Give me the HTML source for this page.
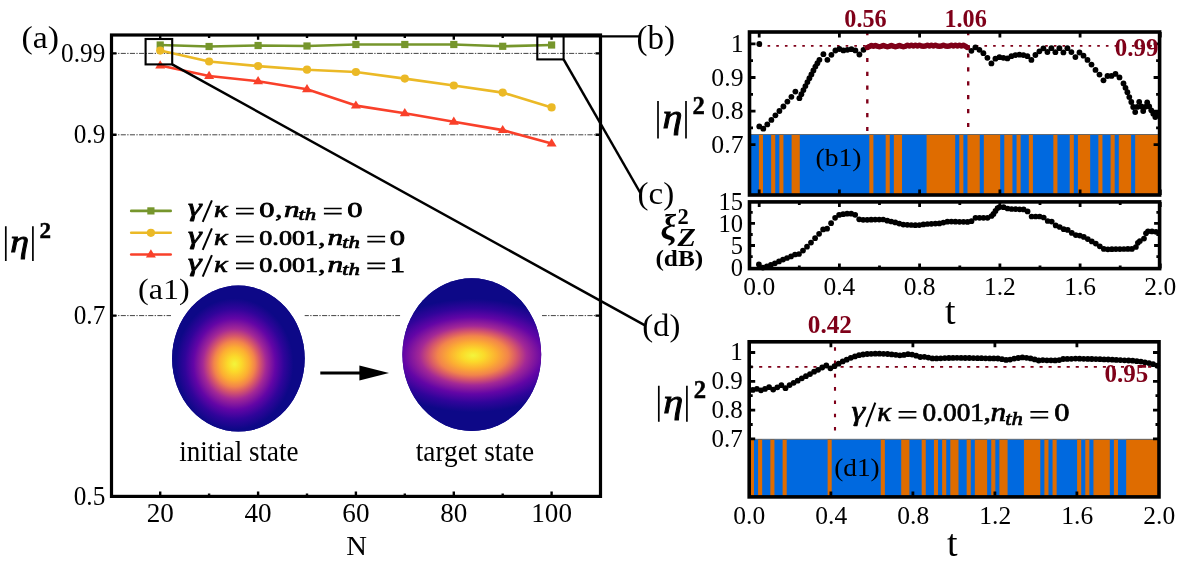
<!DOCTYPE html>
<html><head><meta charset="utf-8"><title>figure</title>
<style>
html,body{margin:0;padding:0;background:#fff;}
svg{display:block;will-change:transform;}
text{font-family:"Liberation Serif",serif;fill:#000;}
.b{font-weight:bold;}
.i{font-style:italic;}
.bi{font-weight:bold;font-style:italic;}
.dr{fill:#7F0019;font-weight:bold;}
</style></head><body>
<svg width="1177" height="565" viewBox="0 0 1177 565">
<defs>
<radialGradient id="g1" cx="0" cy="0" r="1" gradientUnits="userSpaceOnUse" gradientTransform="translate(234.5 364) scale(62 69)">
<stop offset="0" stop-color="#F3F53B"/>
<stop offset="0.11" stop-color="#FBDA2A"/>
<stop offset="0.24" stop-color="#FCAE32"/>
<stop offset="0.33" stop-color="#F2844B"/>
<stop offset="0.41" stop-color="#D5566B"/>
<stop offset="0.51" stop-color="#A32896"/>
<stop offset="0.66" stop-color="#6305A6"/>
<stop offset="0.8" stop-color="#30049A"/>
<stop offset="0.95" stop-color="#0D0887"/>
</radialGradient>
<radialGradient id="g2" cx="0" cy="0" r="1" gradientUnits="userSpaceOnUse" gradientTransform="translate(473 355.5) scale(114 63)">
<stop offset="0" stop-color="#F3F53B"/>
<stop offset="0.1" stop-color="#FBDA2A"/>
<stop offset="0.21" stop-color="#FCAE32"/>
<stop offset="0.31" stop-color="#F2844B"/>
<stop offset="0.385" stop-color="#D5566B"/>
<stop offset="0.47" stop-color="#A32896"/>
<stop offset="0.61" stop-color="#6305A6"/>
<stop offset="0.75" stop-color="#30049A"/>
<stop offset="0.9" stop-color="#0D0887"/>
</radialGradient>
<clipPath id="c1"><ellipse cx="238.4" cy="358.6" rx="66.3" ry="73"/></clipPath>
<clipPath id="c2"><ellipse cx="471.8" cy="354.6" rx="69.4" ry="76.4"/></clipPath>
</defs>

<g id="panelA">
<path d="M111.6 53.4H599" stroke="#444" stroke-width="1" stroke-dasharray="5.1 1.35 1.35 1.35" fill="none"/>
<path d="M111.6 134.8H599" stroke="#444" stroke-width="1" stroke-dasharray="5.1 1.35 1.35 1.35" fill="none"/>
<path d="M111.6 315.6H599" stroke="#444" stroke-width="1" stroke-dasharray="5.1 1.35 1.35 1.35" fill="none"/>
<rect x="171" y="300" width="133.7" height="30" fill="#fff"/><rect x="400.2" y="300" width="141.8" height="30" fill="#fff"/>
<path d="M160.2 496.4v-4.8M160.2 35.0v4.8M258.1 496.4v-4.8M258.1 35.0v4.8M355.9 496.4v-4.8M355.9 35.0v4.8M453.8 496.4v-4.8M453.8 35.0v4.8M551.6 496.4v-4.8M551.6 35.0v4.8M209.1 496.4v-2.9M209.1 35.0v2.9M307.0 496.4v-2.9M307.0 35.0v2.9M404.8 496.4v-2.9M404.8 35.0v2.9M502.7 496.4v-2.9M502.7 35.0v2.9M111.5 53.4h5M600.5 53.4h-5M111.5 134.8h5M600.5 134.8h-5M111.5 315.6h5M600.5 315.6h-5" stroke="#000" stroke-width="2.4" fill="none"/>
<polyline points="160.2,45.0 209.1,46.5 258.1,45.5 307.0,46.0 355.9,44.5 404.8,44.5 453.8,44.5 502.7,46.3 551.6,45.0" fill="none" stroke="#76962C" stroke-width="2.6" stroke-linejoin="round"/>
<g fill="#76962C"><rect x="156.6" y="41.4" width="7.2" height="7.2"/><rect x="205.5" y="42.9" width="7.2" height="7.2"/><rect x="254.5" y="41.9" width="7.2" height="7.2"/><rect x="303.4" y="42.4" width="7.2" height="7.2"/><rect x="352.3" y="40.9" width="7.2" height="7.2"/><rect x="401.2" y="40.9" width="7.2" height="7.2"/><rect x="450.2" y="40.9" width="7.2" height="7.2"/><rect x="499.1" y="42.7" width="7.2" height="7.2"/><rect x="548.0" y="41.4" width="7.2" height="7.2"/></g>
<polyline points="160.2,50.6 209.1,61.5 258.1,66.1 307.0,69.7 355.9,72.0 404.8,78.6 453.8,85.5 502.7,92.6 551.6,107.4" fill="none" stroke="#EBB926" stroke-width="2.6" stroke-linejoin="round"/>
<g fill="#EBB926"><circle cx="160.2" cy="50.6" r="4.1"/><circle cx="209.1" cy="61.5" r="4.1"/><circle cx="258.1" cy="66.1" r="4.1"/><circle cx="307.0" cy="69.7" r="4.1"/><circle cx="355.9" cy="72.0" r="4.1"/><circle cx="404.8" cy="78.6" r="4.1"/><circle cx="453.8" cy="85.5" r="4.1"/><circle cx="502.7" cy="92.6" r="4.1"/><circle cx="551.6" cy="107.4" r="4.1"/></g>
<polyline points="160.2,65.4 209.1,76.0 258.1,81.2 307.0,89.3 355.9,105.6 404.8,113.3 453.8,121.7 502.7,130.1 551.6,143.4" fill="none" stroke="#F9402A" stroke-width="2.6" stroke-linejoin="round"/>
<g fill="#F9402A"><path d="M160.2 60.2l5 8.2h-10z"/><path d="M209.1 70.8l5 8.2h-10z"/><path d="M258.1 76.0l5 8.2h-10z"/><path d="M307.0 84.1l5 8.2h-10z"/><path d="M355.9 100.4l5 8.2h-10z"/><path d="M404.8 108.1l5 8.2h-10z"/><path d="M453.8 116.5l5 8.2h-10z"/><path d="M502.7 124.9l5 8.2h-10z"/><path d="M551.6 138.2l5 8.2h-10z"/></g>
<rect x="111.5" y="35.0" width="489.0" height="461.4" fill="none" stroke="#000" stroke-width="3.2"/>
<g fill="none" stroke="#000" stroke-width="2.1">
<rect x="145.6" y="39" width="26.6" height="25.4"/>
<rect x="537.3" y="36.4" width="26.3" height="23"/>
</g>
<g fill="none" stroke="#000" stroke-width="2.5">
<path d="M563.6 36.4H640" stroke-width="2.2"/>
<path d="M563.6 59.4L640.4 193"/>
<path d="M172.2 64.4L645 325.4"/>
</g>
<path d="M131.2 210.9H170.7" stroke="#76962C" stroke-width="2.6" stroke-linecap="round"/>
<path d="M131.2 232.8H170.7" stroke="#EBB926" stroke-width="2.6" stroke-linecap="round"/>
<path d="M131.2 254.5H170.7" stroke="#F9402A" stroke-width="2.6" stroke-linecap="round"/>
<rect x="147.3" y="207.3" width="7.2" height="7.2" fill="#76962C"/>
<circle cx="150.9" cy="232.8" r="4.1" fill="#EBB926"/>
<path d="M150.9 249.3l5 8.2h-10z" fill="#F9402A"/>
<text transform="translate(188.0 216.0) scale(1.400 1)" font-size="24.725" class="i" stroke="#000" stroke-width="0.75">γ</text><path d="M202.7 221.8L211.9 200.4" stroke="#000" stroke-width="2.0" fill="none"/><text transform="translate(213.9 216.8) scale(1.220 1)" font-size="23.65" class="i" stroke="#000" stroke-width="0.75">κ</text><path d="M236.0 208.5h17.8M236.0 213.6h17.8" stroke="#000" stroke-width="1.7" fill="none"/><text transform="translate(259.3 216.8) scale(1.420 1)" font-size="21.5" class="" stroke="#000" stroke-width="0.75">0</text><text transform="translate(275.2 216.8) scale(1.300 1)" font-size="21.5" class="" stroke="#000" stroke-width="0.75">,</text><text transform="translate(284.0 216.8) scale(1.320 1)" font-size="23.65" class="i" stroke="#000" stroke-width="0.75">n</text><text transform="translate(298.4 220.4) scale(1.320 1)" font-size="17.2" class="i" stroke="#000" stroke-width="0.75">th</text><path d="M323.9 208.5h17.8M323.9 213.6h17.8" stroke="#000" stroke-width="1.7" fill="none"/><text transform="translate(347.2 216.8) scale(1.420 1)" font-size="21.5" class="" stroke="#000" stroke-width="0.75">0</text>
<text transform="translate(188.0 244.0) scale(1.400 1)" font-size="24.725" class="i" stroke="#000" stroke-width="0.75">γ</text><path d="M202.7 249.8L211.9 228.4" stroke="#000" stroke-width="2.0" fill="none"/><text transform="translate(213.9 244.8) scale(1.220 1)" font-size="23.65" class="i" stroke="#000" stroke-width="0.75">κ</text><path d="M236.0 236.5h17.8M236.0 241.6h17.8" stroke="#000" stroke-width="1.7" fill="none"/><text transform="translate(259.3 244.8) scale(1.215 1)" font-size="21.5" class="" stroke="#000" stroke-width="0.75">0.001</text><text transform="translate(318.3 244.8) scale(1.300 1)" font-size="21.5" class="" stroke="#000" stroke-width="0.75">,</text><text transform="translate(327.4 244.8) scale(1.320 1)" font-size="23.65" class="i" stroke="#000" stroke-width="0.75">n</text><text transform="translate(342.2 248.4) scale(1.320 1)" font-size="17.2" class="i" stroke="#000" stroke-width="0.75">th</text><path d="M367.3 236.5h17.8M367.3 241.6h17.8" stroke="#000" stroke-width="1.7" fill="none"/><text transform="translate(389.8 244.8) scale(1.420 1)" font-size="21.5" class="" stroke="#000" stroke-width="0.75">0</text>
<text transform="translate(188.0 270.8) scale(1.400 1)" font-size="24.725" class="i" stroke="#000" stroke-width="0.75">γ</text><path d="M202.7 276.6L211.9 255.2" stroke="#000" stroke-width="2.0" fill="none"/><text transform="translate(213.9 271.6) scale(1.220 1)" font-size="23.65" class="i" stroke="#000" stroke-width="0.75">κ</text><path d="M236.0 263.3h17.8M236.0 268.4h17.8" stroke="#000" stroke-width="1.7" fill="none"/><text transform="translate(259.3 271.6) scale(1.215 1)" font-size="21.5" class="" stroke="#000" stroke-width="0.75">0.001</text><text transform="translate(318.3 271.6) scale(1.300 1)" font-size="21.5" class="" stroke="#000" stroke-width="0.75">,</text><text transform="translate(327.4 271.6) scale(1.320 1)" font-size="23.65" class="i" stroke="#000" stroke-width="0.75">n</text><text transform="translate(342.2 275.2) scale(1.320 1)" font-size="17.2" class="i" stroke="#000" stroke-width="0.75">th</text><path d="M367.3 263.3h17.8M367.3 268.4h17.8" stroke="#000" stroke-width="1.7" fill="none"/><text transform="translate(389.8 271.6) scale(1.420 1)" font-size="21.5" class="" stroke="#000" stroke-width="0.75">1</text>
<text transform="translate(21.6 47.5) scale(1.09 1)" font-size="31">(a)</text>
<text transform="translate(138 299.3) scale(1.07 1)" font-size="30">(a1)</text>
<text x="636.6" y="48.9" font-size="33">(b)</text>
<text transform="translate(637.5 203.6) scale(1.05 1)" font-size="31.5">(c)</text>
<text transform="translate(642.2 335.8) scale(1.04 1)" font-size="31.5">(d)</text>
<text transform="translate(105.3 61.9) scale(0.95 1)" font-size="26.6" text-anchor="end">0.99</text>
<text transform="translate(105.3 143.3) scale(0.95 1)" font-size="26.6" text-anchor="end">0.9</text>
<text transform="translate(105.3 324.1) scale(0.95 1)" font-size="26.6" text-anchor="end">0.7</text>
<text transform="translate(105.3 504.9) scale(0.95 1)" font-size="26.6" text-anchor="end">0.5</text>
<text transform="translate(160.2 522) scale(1.02 1)" font-size="26.6" text-anchor="middle">20</text>
<text transform="translate(258.1 522) scale(1.02 1)" font-size="26.6" text-anchor="middle">40</text>
<text transform="translate(355.9 522) scale(1.02 1)" font-size="26.6" text-anchor="middle">60</text>
<text transform="translate(453.8 522) scale(1.02 1)" font-size="26.6" text-anchor="middle">80</text>
<text transform="translate(551.6 522) scale(1.02 1)" font-size="26.6" text-anchor="middle">100</text>
<text transform="translate(356.6 555.2) scale(1.03 1)" font-size="27.8" text-anchor="middle">N</text>
<text transform="translate(238.8 460.6) scale(0.915 1)" font-size="29.5" text-anchor="middle">initial state</text>
<text transform="translate(475 460.6) scale(0.925 1)" font-size="29.5" text-anchor="middle">target state</text>
<path d="M5.8 226.3V260.9M32.9 226.3V260.9" stroke="#000" stroke-width="1.7" fill="none"/><text transform="translate(10.2 251.8) scale(1.17 1)" font-size="32.24" class="i" stroke="#000" stroke-width="0.9">η</text><text x="39.6" y="237.9" font-size="23" class="b" stroke="#000" stroke-width="0.45">2</text>
<g clip-path="url(#c1)"><rect x="170" y="283" width="138" height="152" fill="#0D0887"/><rect x="170" y="283" width="138" height="152" fill="url(#g1)"/></g>
<g clip-path="url(#c2)"><rect x="400" y="276" width="145" height="158" fill="#0D0887"/><rect x="400" y="276" width="145" height="158" fill="url(#g2)"/></g>
<path d="M320.3 373H362" stroke="#000" stroke-width="3.2"/><path d="M389 373L359.4 365.5V380.5z" fill="#000"/>
</g>
<g id="panelB">
<rect x="750" y="134.6" width="409" height="60" fill="#0069DF"/>
<rect x="758.88" y="134.6" width="4.09" height="60" fill="#DF6C00"/>
<rect x="771.15" y="134.6" width="4.09" height="60" fill="#DF6C00"/>
<rect x="779.33" y="134.6" width="4.09" height="60" fill="#DF6C00"/>
<rect x="791.60" y="134.6" width="8.18" height="60" fill="#DF6C00"/>
<rect x="869.31" y="134.6" width="4.09" height="60" fill="#DF6C00"/>
<rect x="885.67" y="134.6" width="4.09" height="60" fill="#DF6C00"/>
<rect x="893.85" y="134.6" width="8.18" height="60" fill="#DF6C00"/>
<rect x="926.57" y="134.6" width="28.63" height="60" fill="#DF6C00"/>
<rect x="959.29" y="134.6" width="4.09" height="60" fill="#DF6C00"/>
<rect x="967.47" y="134.6" width="12.27" height="60" fill="#DF6C00"/>
<rect x="983.83" y="134.6" width="16.36" height="60" fill="#DF6C00"/>
<rect x="1004.28" y="134.6" width="8.18" height="60" fill="#DF6C00"/>
<rect x="1016.55" y="134.6" width="4.09" height="60" fill="#DF6C00"/>
<rect x="1028.82" y="134.6" width="4.09" height="60" fill="#DF6C00"/>
<rect x="1053.36" y="134.6" width="4.09" height="60" fill="#DF6C00"/>
<rect x="1069.72" y="134.6" width="4.09" height="60" fill="#DF6C00"/>
<rect x="1077.90" y="134.6" width="12.27" height="60" fill="#DF6C00"/>
<rect x="1098.35" y="134.6" width="4.09" height="60" fill="#DF6C00"/>
<rect x="1110.62" y="134.6" width="4.09" height="60" fill="#DF6C00"/>
<rect x="1118.80" y="134.6" width="12.27" height="60" fill="#DF6C00"/>
<rect x="1135.16" y="134.6" width="24.54" height="60" fill="#DF6C00"/>
<path d="M751 134.5H1158" stroke="#555" stroke-width="0.8"/>
<g fill="none" stroke="#7F0019" stroke-width="1.8" stroke-dasharray="2.6 6.075">
<path d="M758.9 45.8H1158"/>
</g>
<g fill="none" stroke="#7F0019" stroke-width="2.4" stroke-dasharray="4.2 9.6">
<path d="M867.3 57.9V131.5"/><path d="M968.2 53.4V127.5" stroke-dasharray="4.2 9.7"/><path d="M867.3 33V35.3M968.2 33V35.3" stroke-dasharray="none"/>
</g>
<path d="M759.2 32.0v5.5M759.2 195.0v-5.5M839.4 32.0v5.5M839.4 195.0v-5.5M919.6 32.0v5.5M919.6 195.0v-5.5M999.9 32.0v5.5M999.9 195.0v-5.5M1080.1 32.0v5.5M1080.1 195.0v-5.5M1160.3 32.0v5.5M1160.3 195.0v-5.5M749.5 43.9h6M1159.6 43.9h-6M749.5 77.5h6M1159.6 77.5h-6M749.5 111.1h6M1159.6 111.1h-6M749.5 144.7h6M1159.6 144.7h-6M749.5 60.7h3.5M1159.6 60.7h-3.5M749.5 94.3h3.5M1159.6 94.3h-3.5M749.5 127.9h3.5M1159.6 127.9h-3.5" stroke="#000" stroke-width="2.8" fill="none"/>
<g fill="#000"><circle cx="759.3" cy="44.0" r="2.90"/><circle cx="759.3" cy="126.4" r="2.90"/><circle cx="763.3" cy="128.7" r="2.90"/><circle cx="767.3" cy="124.4" r="2.90"/><circle cx="771.4" cy="119.9" r="2.90"/><circle cx="775.4" cy="115.3" r="2.90"/><circle cx="779.4" cy="111.0" r="2.90"/><circle cx="783.4" cy="106.5" r="2.90"/><circle cx="787.4" cy="101.6" r="2.90"/><circle cx="791.4" cy="96.8" r="2.90"/><circle cx="795.4" cy="91.6" r="2.90"/><circle cx="799.4" cy="98.2" r="2.90"/><circle cx="801.4" cy="94.2" r="2.90"/><circle cx="803.4" cy="90.1" r="2.90"/><circle cx="805.4" cy="86.1" r="2.90"/><circle cx="807.4" cy="82.1" r="2.90"/><circle cx="809.4" cy="78.2" r="2.90"/><circle cx="811.4" cy="74.4" r="2.90"/><circle cx="813.4" cy="70.5" r="2.90"/><circle cx="815.4" cy="66.6" r="2.90"/><circle cx="817.4" cy="63.2" r="2.90"/><circle cx="819.4" cy="59.8" r="2.90"/><circle cx="823.4" cy="54.2" r="2.90"/><circle cx="827.4" cy="59.8" r="2.90"/><circle cx="831.4" cy="54.8" r="2.90"/><circle cx="835.4" cy="50.5" r="2.90"/><circle cx="839.4" cy="49.0" r="2.90"/><circle cx="843.4" cy="50.4" r="2.90"/><circle cx="847.4" cy="49.8" r="2.90"/><circle cx="851.4" cy="49.2" r="2.90"/><circle cx="855.4" cy="50.4" r="2.90"/><circle cx="859.4" cy="54.5" r="2.90"/><circle cx="863.5" cy="49.8" r="2.90"/><circle cx="971.4" cy="50.8" r="2.90"/><circle cx="975.4" cy="47.3" r="2.90"/><circle cx="979.4" cy="49.8" r="2.90"/><circle cx="983.4" cy="53.2" r="2.90"/><circle cx="987.4" cy="57.8" r="2.90"/><circle cx="991.4" cy="63.4" r="2.90"/><circle cx="995.4" cy="58.7" r="2.90"/><circle cx="999.4" cy="57.2" r="2.90"/><circle cx="1003.4" cy="57.8" r="2.90"/><circle cx="1007.4" cy="58.4" r="2.90"/><circle cx="1011.4" cy="56.2" r="2.90"/><circle cx="1015.4" cy="55.1" r="2.90"/><circle cx="1019.4" cy="54.7" r="2.90"/><circle cx="1023.4" cy="55.1" r="2.90"/><circle cx="1027.4" cy="56.2" r="2.90"/><circle cx="1031.4" cy="59.9" r="2.90"/><circle cx="1035.4" cy="55.0" r="2.90"/><circle cx="1039.4" cy="51.3" r="2.90"/><circle cx="1043.4" cy="48.3" r="2.90"/><circle cx="1047.4" cy="52.0" r="2.90"/><circle cx="1051.4" cy="48.2" r="2.90"/><circle cx="1055.4" cy="52.2" r="2.90"/><circle cx="1059.4" cy="48.2" r="2.90"/><circle cx="1063.4" cy="52.4" r="2.90"/><circle cx="1067.4" cy="48.2" r="2.90"/><circle cx="1071.4" cy="52.1" r="2.90"/><circle cx="1075.4" cy="57.1" r="2.90"/><circle cx="1079.5" cy="52.5" r="2.90"/><circle cx="1083.5" cy="55.7" r="2.90"/><circle cx="1087.5" cy="59.9" r="2.90"/><circle cx="1091.5" cy="64.6" r="2.90"/><circle cx="1095.5" cy="69.9" r="2.90"/><circle cx="1099.5" cy="74.6" r="2.90"/><circle cx="1103.5" cy="80.3" r="2.90"/><circle cx="1107.5" cy="76.0" r="2.90"/><circle cx="1111.5" cy="75.9" r="2.90"/><circle cx="1115.5" cy="73.9" r="2.90"/><circle cx="1119.5" cy="77.4" r="2.90"/><circle cx="1123.5" cy="83.4" r="2.90"/><circle cx="1125.5" cy="87.8" r="2.90"/><circle cx="1127.4" cy="92.2" r="2.90"/><circle cx="1129.3" cy="97.1" r="2.90"/><circle cx="1131.3" cy="102.0" r="2.90"/><circle cx="1133.2" cy="107.0" r="2.90"/><circle cx="1135.2" cy="112.1" r="2.90"/><circle cx="1137.2" cy="106.9" r="2.90"/><circle cx="1139.2" cy="101.8" r="2.90"/><circle cx="1141.2" cy="106.4" r="2.90"/><circle cx="1143.2" cy="111.0" r="2.90"/><circle cx="1145.2" cy="106.8" r="2.90"/><circle cx="1147.2" cy="102.5" r="2.90"/><circle cx="1149.2" cy="106.4" r="2.90"/><circle cx="1151.3" cy="110.3" r="2.90"/><circle cx="1153.3" cy="113.7" r="2.90"/><circle cx="1155.3" cy="117.1" r="2.90"/><circle cx="1158.0" cy="114.2" r="2.90"/></g>
<g fill="#7F0019"><circle cx="867.4" cy="47.4" r="2.75"/><circle cx="869.4" cy="46.5" r="2.75"/><circle cx="871.4" cy="45.6" r="2.75"/><circle cx="873.4" cy="46.3" r="2.75"/><circle cx="875.4" cy="45.6" r="2.75"/><circle cx="877.4" cy="46.3" r="2.75"/><circle cx="879.4" cy="46.7" r="2.75"/><circle cx="881.4" cy="46.3" r="2.75"/><circle cx="883.4" cy="45.6" r="2.75"/><circle cx="885.4" cy="46.3" r="2.75"/><circle cx="887.4" cy="46.7" r="2.75"/><circle cx="889.4" cy="46.3" r="2.75"/><circle cx="891.4" cy="45.6" r="2.75"/><circle cx="893.4" cy="46.3" r="2.75"/><circle cx="895.4" cy="46.7" r="2.75"/><circle cx="897.4" cy="46.3" r="2.75"/><circle cx="899.4" cy="45.6" r="2.75"/><circle cx="901.4" cy="46.3" r="2.75"/><circle cx="903.4" cy="46.7" r="2.75"/><circle cx="905.4" cy="46.3" r="2.75"/><circle cx="907.4" cy="45.2" r="2.75"/><circle cx="909.4" cy="45.9" r="2.75"/><circle cx="911.4" cy="45.2" r="2.75"/><circle cx="913.4" cy="45.9" r="2.75"/><circle cx="915.4" cy="45.2" r="2.75"/><circle cx="917.4" cy="45.9" r="2.75"/><circle cx="919.4" cy="45.2" r="2.75"/><circle cx="921.4" cy="45.9" r="2.75"/><circle cx="923.4" cy="46.3" r="2.75"/><circle cx="925.4" cy="45.9" r="2.75"/><circle cx="927.4" cy="45.2" r="2.75"/><circle cx="929.4" cy="45.9" r="2.75"/><circle cx="931.4" cy="45.2" r="2.75"/><circle cx="933.4" cy="45.9" r="2.75"/><circle cx="935.4" cy="45.2" r="2.75"/><circle cx="937.4" cy="45.9" r="2.75"/><circle cx="939.4" cy="46.3" r="2.75"/><circle cx="941.4" cy="45.9" r="2.75"/><circle cx="943.4" cy="45.2" r="2.75"/><circle cx="945.4" cy="45.9" r="2.75"/><circle cx="947.4" cy="46.3" r="2.75"/><circle cx="949.4" cy="45.9" r="2.75"/><circle cx="951.4" cy="45.2" r="2.75"/><circle cx="953.4" cy="45.9" r="2.75"/><circle cx="955.4" cy="45.2" r="2.75"/><circle cx="957.4" cy="45.9" r="2.75"/><circle cx="959.4" cy="45.2" r="2.75"/><circle cx="961.4" cy="45.9" r="2.75"/><circle cx="963.4" cy="45.2" r="2.75"/><circle cx="965.4" cy="46.2" r="2.75"/><circle cx="967.4" cy="47.4" r="2.75"/></g>
<rect x="749.5" y="32.0" width="410.1" height="163.0" fill="none" stroke="#000" stroke-width="3.6"/>
<text transform="translate(865.5 27.4) scale(0.97 1)" font-size="25" class="dr" text-anchor="middle">0.56</text>
<text transform="translate(965.6 27.4) scale(0.97 1)" font-size="25" class="dr" text-anchor="middle">1.06</text>
<text transform="translate(1158.6 55.8) scale(1.0 1)" font-size="25" class="dr" text-anchor="end">0.99</text>
<text transform="translate(743.5 52.0) scale(1.030 1)" font-size="25" text-anchor="end">1</text>
<text transform="translate(743.5 85.6) scale(1.030 1)" font-size="25" text-anchor="end">0.9</text>
<text transform="translate(743.5 119.2) scale(1.030 1)" font-size="25" text-anchor="end">0.8</text>
<text transform="translate(743.5 152.8) scale(1.030 1)" font-size="25" text-anchor="end">0.7</text>
<text transform="translate(815.6 165.8) scale(1.06 1)" font-size="26">(b1)</text>
<path d="M658.0 101.0V138.5M686.0 101.0V138.5" stroke="#000" stroke-width="1.7" fill="none"/><text transform="translate(662.5 128.2) scale(1.17 1)" font-size="34.32" class="i" stroke="#000" stroke-width="0.9">η</text><text x="692.4" y="113.8" font-size="24.7" class="b" stroke="#000" stroke-width="0.45">2</text>
</g>
<g id="panelC">
<path d="M759.2 201.9v5M759.2 268.6v-5M839.4 201.9v5M839.4 268.6v-5M919.6 201.9v5M919.6 268.6v-5M999.9 201.9v5M999.9 268.6v-5M1080.1 201.9v5M1080.1 268.6v-5M1160.3 201.9v5M1160.3 268.6v-5M799.3 201.9v3M799.3 268.6v-3M879.5 201.9v3M879.5 268.6v-3M959.8 201.9v3M959.8 268.6v-3M1040.0 201.9v3M1040.0 268.6v-3M1120.2 201.9v3M1120.2 268.6v-3M749.5 245.5h5.5M1159.6 245.5h-5.5M749.5 223.4h5.5M1159.6 223.4h-5.5M749.5 256.6h3.2M1159.6 256.6h-3.2M749.5 234.5h3.2M1159.6 234.5h-3.2M749.5 212.4h3.2M1159.6 212.4h-3.2" stroke="#000" stroke-width="2.8" fill="none"/>
<g fill="#000"><circle cx="758.9" cy="264.4" r="2.85"/><circle cx="762.9" cy="267.6" r="2.85"/><circle cx="766.9" cy="266.4" r="2.85"/><circle cx="770.9" cy="264.9" r="2.85"/><circle cx="774.9" cy="263.3" r="2.85"/><circle cx="779.0" cy="261.4" r="2.85"/><circle cx="783.0" cy="259.6" r="2.85"/><circle cx="787.0" cy="258.0" r="2.85"/><circle cx="791.0" cy="256.4" r="2.85"/><circle cx="795.0" cy="254.5" r="2.85"/><circle cx="799.0" cy="254.0" r="2.85"/><circle cx="803.0" cy="250.6" r="2.85"/><circle cx="807.0" cy="246.7" r="2.85"/><circle cx="811.0" cy="242.6" r="2.85"/><circle cx="815.1" cy="238.2" r="2.85"/><circle cx="819.1" cy="233.8" r="2.85"/><circle cx="823.1" cy="229.4" r="2.85"/><circle cx="827.1" cy="228.7" r="2.85"/><circle cx="831.1" cy="223.2" r="2.85"/><circle cx="835.1" cy="217.8" r="2.85"/><circle cx="839.1" cy="214.9" r="2.85"/><circle cx="843.1" cy="214.2" r="2.85"/><circle cx="847.1" cy="213.7" r="2.85"/><circle cx="851.2" cy="213.7" r="2.85"/><circle cx="855.2" cy="214.8" r="2.85"/><circle cx="859.2" cy="219.3" r="2.85"/><circle cx="863.2" cy="219.8" r="2.85"/><circle cx="867.2" cy="219.8" r="2.85"/><circle cx="871.2" cy="219.7" r="2.85"/><circle cx="875.2" cy="219.6" r="2.85"/><circle cx="879.2" cy="219.6" r="2.85"/><circle cx="883.2" cy="219.5" r="2.85"/><circle cx="887.3" cy="220.7" r="2.85"/><circle cx="891.3" cy="221.5" r="2.85"/><circle cx="895.3" cy="222.4" r="2.85"/><circle cx="899.3" cy="223.6" r="2.85"/><circle cx="903.3" cy="224.6" r="2.85"/><circle cx="907.3" cy="224.8" r="2.85"/><circle cx="911.3" cy="225.0" r="2.85"/><circle cx="915.3" cy="225.2" r="2.85"/><circle cx="919.3" cy="225.1" r="2.85"/><circle cx="923.4" cy="224.4" r="2.85"/><circle cx="927.4" cy="224.0" r="2.85"/><circle cx="931.4" cy="223.8" r="2.85"/><circle cx="935.4" cy="223.6" r="2.85"/><circle cx="939.4" cy="223.4" r="2.85"/><circle cx="943.4" cy="222.6" r="2.85"/><circle cx="947.4" cy="221.7" r="2.85"/><circle cx="951.4" cy="221.6" r="2.85"/><circle cx="955.4" cy="221.7" r="2.85"/><circle cx="959.5" cy="221.8" r="2.85"/><circle cx="963.5" cy="221.8" r="2.85"/><circle cx="967.5" cy="221.9" r="2.85"/><circle cx="971.5" cy="221.2" r="2.85"/><circle cx="975.5" cy="217.8" r="2.85"/><circle cx="979.5" cy="217.8" r="2.85"/><circle cx="983.5" cy="217.8" r="2.85"/><circle cx="987.5" cy="217.8" r="2.85"/><circle cx="991.5" cy="216.0" r="2.85"/><circle cx="993.5" cy="213.9" r="2.85"/><circle cx="995.5" cy="210.9" r="2.85"/><circle cx="997.6" cy="208.1" r="2.85"/><circle cx="999.6" cy="207.1" r="2.85"/><circle cx="1003.6" cy="207.2" r="2.85"/><circle cx="1007.6" cy="208.5" r="2.85"/><circle cx="1011.6" cy="209.0" r="2.85"/><circle cx="1015.6" cy="209.1" r="2.85"/><circle cx="1019.6" cy="209.3" r="2.85"/><circle cx="1023.6" cy="209.4" r="2.85"/><circle cx="1027.6" cy="211.4" r="2.85"/><circle cx="1031.6" cy="216.5" r="2.85"/><circle cx="1035.7" cy="216.5" r="2.85"/><circle cx="1039.7" cy="216.5" r="2.85"/><circle cx="1043.7" cy="217.5" r="2.85"/><circle cx="1047.7" cy="221.0" r="2.85"/><circle cx="1051.7" cy="221.6" r="2.85"/><circle cx="1055.7" cy="225.4" r="2.85"/><circle cx="1059.7" cy="227.0" r="2.85"/><circle cx="1063.7" cy="229.2" r="2.85"/><circle cx="1067.7" cy="229.9" r="2.85"/><circle cx="1071.8" cy="232.9" r="2.85"/><circle cx="1075.8" cy="235.1" r="2.85"/><circle cx="1079.8" cy="235.6" r="2.85"/><circle cx="1083.8" cy="236.9" r="2.85"/><circle cx="1087.8" cy="239.1" r="2.85"/><circle cx="1091.8" cy="241.4" r="2.85"/><circle cx="1095.8" cy="243.6" r="2.85"/><circle cx="1099.8" cy="246.3" r="2.85"/><circle cx="1103.8" cy="248.9" r="2.85"/><circle cx="1107.9" cy="249.3" r="2.85"/><circle cx="1111.9" cy="249.2" r="2.85"/><circle cx="1115.9" cy="249.1" r="2.85"/><circle cx="1119.9" cy="249.1" r="2.85"/><circle cx="1123.9" cy="249.0" r="2.85"/><circle cx="1127.9" cy="248.9" r="2.85"/><circle cx="1131.9" cy="248.9" r="2.85"/><circle cx="1135.9" cy="247.0" r="2.85"/><circle cx="1137.9" cy="242.8" r="2.85"/><circle cx="1139.9" cy="241.0" r="2.85"/><circle cx="1144.0" cy="238.6" r="2.85"/><circle cx="1146.0" cy="233.3" r="2.85"/><circle cx="1148.0" cy="231.3" r="2.85"/><circle cx="1152.0" cy="231.4" r="2.85"/><circle cx="1156.0" cy="231.8" r="2.85"/></g>
<rect x="749.5" y="201.9" width="410.1" height="66.7" fill="none" stroke="#000" stroke-width="3.6"/>
<text transform="translate(743.1 276.2) scale(0.980 1)" font-size="25" text-anchor="end">0</text>
<text transform="translate(743.1 254.1) scale(0.980 1)" font-size="25" text-anchor="end">5</text>
<text transform="translate(743.1 232.0) scale(0.980 1)" font-size="25" text-anchor="end">10</text>
<text transform="translate(743.1 209.9) scale(0.980 1)" font-size="25" text-anchor="end">15</text>
<text transform="translate(759.2 295.0) scale(1.020 1)" font-size="25" text-anchor="middle">0.0</text>
<text transform="translate(839.4 295.0) scale(1.020 1)" font-size="25" text-anchor="middle">0.4</text>
<text transform="translate(919.6 295.0) scale(1.020 1)" font-size="25" text-anchor="middle">0.8</text>
<text transform="translate(999.9 295.0) scale(1.020 1)" font-size="25" text-anchor="middle">1.2</text>
<text transform="translate(1080.1 295.0) scale(1.020 1)" font-size="25" text-anchor="middle">1.6</text>
<text transform="translate(1160.3 295.0) scale(1.020 1)" font-size="25" text-anchor="middle">2.0</text>
<text x="950.4" y="323.5" font-size="38" text-anchor="middle">t</text>
<text x="660.6" y="239.3" font-size="35" class="bi">ξ</text><text transform="translate(677.6 245.8) scale(1.18 1)" font-size="25.5" class="bi">Z</text><text x="677.5" y="223.5" font-size="22.5" class="b">2</text>
<text transform="translate(679.3 265.7) scale(1.1 1)" font-size="23" class="b" text-anchor="middle">(dB)</text>
</g>
<g id="panelD">
<rect x="750" y="439.4" width="408.5" height="57" fill="#0069DF"/>
<rect x="749.90" y="439.4" width="4.09" height="57" fill="#DF6C00"/>
<rect x="758.08" y="439.4" width="4.09" height="57" fill="#DF6C00"/>
<rect x="770.35" y="439.4" width="4.09" height="57" fill="#DF6C00"/>
<rect x="782.62" y="439.4" width="4.09" height="57" fill="#DF6C00"/>
<rect x="827.61" y="439.4" width="4.09" height="57" fill="#DF6C00"/>
<rect x="880.78" y="439.4" width="4.09" height="57" fill="#DF6C00"/>
<rect x="901.23" y="439.4" width="8.18" height="57" fill="#DF6C00"/>
<rect x="921.68" y="439.4" width="4.09" height="57" fill="#DF6C00"/>
<rect x="933.95" y="439.4" width="4.09" height="57" fill="#DF6C00"/>
<rect x="942.13" y="439.4" width="4.09" height="57" fill="#DF6C00"/>
<rect x="950.31" y="439.4" width="8.18" height="57" fill="#DF6C00"/>
<rect x="966.67" y="439.4" width="4.09" height="57" fill="#DF6C00"/>
<rect x="974.85" y="439.4" width="12.27" height="57" fill="#DF6C00"/>
<rect x="991.21" y="439.4" width="4.09" height="57" fill="#DF6C00"/>
<rect x="999.39" y="439.4" width="8.18" height="57" fill="#DF6C00"/>
<rect x="1023.93" y="439.4" width="16.36" height="57" fill="#DF6C00"/>
<rect x="1044.38" y="439.4" width="4.09" height="57" fill="#DF6C00"/>
<rect x="1052.56" y="439.4" width="4.09" height="57" fill="#DF6C00"/>
<rect x="1077.10" y="439.4" width="4.09" height="57" fill="#DF6C00"/>
<rect x="1085.28" y="439.4" width="4.09" height="57" fill="#DF6C00"/>
<rect x="1093.46" y="439.4" width="16.36" height="57" fill="#DF6C00"/>
<rect x="1113.91" y="439.4" width="4.09" height="57" fill="#DF6C00"/>
<rect x="1126.18" y="439.4" width="32.72" height="57" fill="#DF6C00"/>
<path d="M751 439.3H1158" stroke="#555" stroke-width="0.8"/>
<g fill="none" stroke="#7F0019" stroke-width="1.7" stroke-dasharray="3.1 5.945">
<path d="M750.1 366.8H1158"/>
</g>
<g fill="none" stroke="#7F0019" stroke-width="2.1" stroke-dasharray="3.6 9.7">
<path d="M835 347.2V432"/>
</g>
<path d="M830.9 341.8v5.5M830.9 496.9v-5.5M912.9 341.8v5.5M912.9 496.9v-5.5M994.9 341.8v5.5M994.9 496.9v-5.5M1076.9 341.8v5.5M1076.9 496.9v-5.5M749.2 352.5h6M1159.0 352.5h-6M749.2 381.3h6M1159.0 381.3h-6M749.2 410.1h6M1159.0 410.1h-6M749.2 438.9h6M1159.0 438.9h-6M749.2 366.9h3.5M1159.0 366.9h-3.5M749.2 395.7h3.5M1159.0 395.7h-3.5M749.2 424.5h3.5M1159.0 424.5h-3.5" stroke="#000" stroke-width="2.8" fill="none"/>
<g fill="#000"><circle cx="752.8" cy="389.9" r="2.90"/><circle cx="756.9" cy="388.8" r="2.90"/><circle cx="761.0" cy="390.3" r="2.90"/><circle cx="765.0" cy="388.9" r="2.90"/><circle cx="769.1" cy="387.2" r="2.90"/><circle cx="773.2" cy="389.6" r="2.90"/><circle cx="777.3" cy="387.3" r="2.90"/><circle cx="781.4" cy="385.2" r="2.90"/><circle cx="785.5" cy="388.2" r="2.90"/><circle cx="789.6" cy="385.1" r="2.90"/><circle cx="793.6" cy="382.8" r="2.90"/><circle cx="797.7" cy="380.7" r="2.90"/><circle cx="801.8" cy="378.3" r="2.90"/><circle cx="805.9" cy="376.2" r="2.90"/><circle cx="810.0" cy="374.1" r="2.90"/><circle cx="814.1" cy="371.7" r="2.90"/><circle cx="818.1" cy="369.8" r="2.90"/><circle cx="822.2" cy="367.5" r="2.90"/><circle cx="826.3" cy="365.5" r="2.90"/><circle cx="830.4" cy="368.3" r="2.90"/><circle cx="834.5" cy="366.2" r="2.90"/><circle cx="838.6" cy="363.7" r="2.90"/><circle cx="842.7" cy="361.4" r="2.90"/><circle cx="846.7" cy="359.7" r="2.90"/><circle cx="850.8" cy="357.8" r="2.90"/><circle cx="854.9" cy="356.4" r="2.90"/><circle cx="859.0" cy="355.2" r="2.90"/><circle cx="863.1" cy="354.5" r="2.90"/><circle cx="867.2" cy="354.0" r="2.90"/><circle cx="871.2" cy="353.8" r="2.90"/><circle cx="875.3" cy="353.7" r="2.90"/><circle cx="879.4" cy="353.7" r="2.90"/><circle cx="883.5" cy="353.8" r="2.90"/><circle cx="887.6" cy="354.0" r="2.90"/><circle cx="891.7" cy="354.4" r="2.90"/><circle cx="895.8" cy="354.8" r="2.90"/><circle cx="899.8" cy="355.3" r="2.90"/><circle cx="903.9" cy="354.9" r="2.90"/><circle cx="908.0" cy="354.2" r="2.90"/><circle cx="912.1" cy="354.6" r="2.90"/><circle cx="916.2" cy="355.7" r="2.90"/><circle cx="920.3" cy="357.0" r="2.90"/><circle cx="924.4" cy="356.8" r="2.90"/><circle cx="928.4" cy="357.6" r="2.90"/><circle cx="932.5" cy="358.4" r="2.90"/><circle cx="936.6" cy="358.4" r="2.90"/><circle cx="940.7" cy="358.3" r="2.90"/><circle cx="944.8" cy="358.1" r="2.90"/><circle cx="948.9" cy="358.0" r="2.90"/><circle cx="953.0" cy="357.9" r="2.90"/><circle cx="957.0" cy="357.8" r="2.90"/><circle cx="961.1" cy="357.9" r="2.90"/><circle cx="965.2" cy="358.0" r="2.90"/><circle cx="969.3" cy="358.0" r="2.90"/><circle cx="973.4" cy="358.1" r="2.90"/><circle cx="977.5" cy="358.2" r="2.90"/><circle cx="981.5" cy="358.2" r="2.90"/><circle cx="985.6" cy="358.3" r="2.90"/><circle cx="989.7" cy="358.4" r="2.90"/><circle cx="993.8" cy="358.4" r="2.90"/><circle cx="997.9" cy="358.5" r="2.90"/><circle cx="1002.0" cy="359.2" r="2.90"/><circle cx="1006.1" cy="359.9" r="2.90"/><circle cx="1010.1" cy="359.6" r="2.90"/><circle cx="1014.2" cy="358.6" r="2.90"/><circle cx="1018.3" cy="358.0" r="2.90"/><circle cx="1022.4" cy="357.4" r="2.90"/><circle cx="1026.5" cy="357.8" r="2.90"/><circle cx="1030.6" cy="358.4" r="2.90"/><circle cx="1034.7" cy="359.4" r="2.90"/><circle cx="1038.7" cy="360.5" r="2.90"/><circle cx="1042.8" cy="360.1" r="2.90"/><circle cx="1046.9" cy="360.3" r="2.90"/><circle cx="1051.0" cy="360.3" r="2.90"/><circle cx="1055.1" cy="360.4" r="2.90"/><circle cx="1059.2" cy="360.1" r="2.90"/><circle cx="1063.2" cy="359.0" r="2.90"/><circle cx="1067.3" cy="358.9" r="2.90"/><circle cx="1071.4" cy="358.8" r="2.90"/><circle cx="1075.5" cy="358.6" r="2.90"/><circle cx="1079.6" cy="358.7" r="2.90"/><circle cx="1083.7" cy="358.8" r="2.90"/><circle cx="1087.8" cy="358.9" r="2.90"/><circle cx="1091.8" cy="359.0" r="2.90"/><circle cx="1095.9" cy="359.1" r="2.90"/><circle cx="1100.0" cy="359.2" r="2.90"/><circle cx="1104.1" cy="359.4" r="2.90"/><circle cx="1108.2" cy="359.5" r="2.90"/><circle cx="1112.3" cy="359.7" r="2.90"/><circle cx="1116.3" cy="359.9" r="2.90"/><circle cx="1120.4" cy="360.1" r="2.90"/><circle cx="1124.5" cy="360.3" r="2.90"/><circle cx="1128.6" cy="360.5" r="2.90"/><circle cx="1132.7" cy="360.7" r="2.90"/><circle cx="1136.8" cy="361.2" r="2.90"/><circle cx="1140.9" cy="361.6" r="2.90"/><circle cx="1144.9" cy="362.3" r="2.90"/><circle cx="1149.0" cy="363.1" r="2.90"/><circle cx="1153.1" cy="364.2" r="2.90"/><circle cx="1157.2" cy="365.6" r="2.90"/></g>
<rect x="749.2" y="341.8" width="409.8" height="155.1" fill="none" stroke="#000" stroke-width="3.6"/>
<text transform="translate(829.9 332.8) scale(1.01 1)" font-size="25" class="dr" text-anchor="middle">0.42</text>
<text transform="translate(1148.2 382.4) scale(1.0 1)" font-size="25" class="dr" text-anchor="end">0.95</text>
<text transform="translate(742.7 360.2) scale(1.000 1)" font-size="25" text-anchor="end">1</text>
<text transform="translate(742.7 389.0) scale(1.000 1)" font-size="25" text-anchor="end">0.9</text>
<text transform="translate(742.7 417.8) scale(1.000 1)" font-size="25" text-anchor="end">0.8</text>
<text transform="translate(742.7 446.6) scale(1.000 1)" font-size="25" text-anchor="end">0.7</text>
<text transform="translate(749.2 523.8) scale(1.020 1)" font-size="25" text-anchor="middle">0.0</text>
<text transform="translate(831.2 523.8) scale(1.020 1)" font-size="25" text-anchor="middle">0.4</text>
<text transform="translate(913.2 523.8) scale(1.020 1)" font-size="25" text-anchor="middle">0.8</text>
<text transform="translate(995.2 523.8) scale(1.020 1)" font-size="25" text-anchor="middle">1.2</text>
<text transform="translate(1077.2 523.8) scale(1.020 1)" font-size="25" text-anchor="middle">1.6</text>
<text transform="translate(1159.2 523.8) scale(1.020 1)" font-size="25" text-anchor="middle">2.0</text>
<text x="952.2" y="555.7" font-size="38" text-anchor="middle">t</text>
<text transform="translate(834.2 476.2) scale(1.05 1)" font-size="26">(d1)</text>
<text transform="translate(851.4 420.4) scale(1.244 1)" font-size="27.83" class="i" stroke="#000" stroke-width="0.65">γ</text><path d="M866.1 426.8L875.3 402.7" stroke="#000" stroke-width="2.0" fill="none"/><text transform="translate(877.3 421.2) scale(1.084 1)" font-size="26.62" class="i" stroke="#000" stroke-width="0.65">κ</text><path d="M898.6 411.9h17.8M898.6 417.6h17.8" stroke="#000" stroke-width="1.7" fill="none"/><text transform="translate(922.6 421.2) scale(1.128 1)" font-size="24.2" class="" stroke="#000" stroke-width="0.65">0.001</text><text transform="translate(983.7 421.2) scale(1.155 1)" font-size="24.2" class="" stroke="#000" stroke-width="0.65">,</text><text transform="translate(990.6 421.2) scale(1.173 1)" font-size="26.62" class="i" stroke="#000" stroke-width="0.65">n</text><text transform="translate(1005.2 425.3) scale(1.173 1)" font-size="19.36" class="i" stroke="#000" stroke-width="0.65">th</text><path d="M1030.4 411.9h17.8M1030.4 417.6h17.8" stroke="#000" stroke-width="1.7" fill="none"/><text transform="translate(1054.2 421.2) scale(1.262 1)" font-size="24.2" class="" stroke="#000" stroke-width="0.65">0</text>
<path d="M658.8 385.8V421.8M686.9 385.8V421.8" stroke="#000" stroke-width="1.7" fill="none"/><text transform="translate(663.3 412.6) scale(1.17 1)" font-size="34.32" class="i" stroke="#000" stroke-width="0.9">η</text><text x="693.7" y="398.2" font-size="24.7" class="b" stroke="#000" stroke-width="0.45">2</text>
</g>
</svg></body></html>
